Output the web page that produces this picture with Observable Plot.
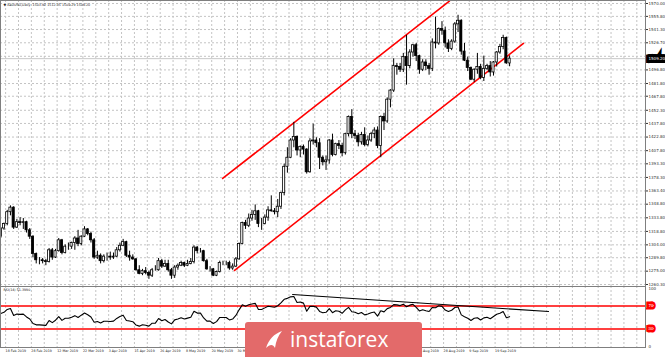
<!DOCTYPE html>
<html>
<head>
<meta charset="utf-8">
<script src="https://cdn.jsdelivr.net/npm/d3@7"></script>
<script src="https://cdn.jsdelivr.net/npm/@observablehq/plot@0.6"></script>
<style>
html,body{margin:0;padding:0;background:#fff;}
#wrap{position:relative;width:665px;height:357px;overflow:hidden;background:#fff;font-family:"DejaVu Sans",sans-serif;}
#main,#rsi{position:absolute;left:0;}
#main{top:0;}
#rsi{top:286px;}
#wm{position:absolute;left:245px;top:322px;width:177px;height:35px;background:#e36a6a;border-radius:3px 3px 0 0;display:flex;align-items:center;}
#wm svg{margin-left:18px;}
#wm span{font-family:"Open Sans",sans-serif;font-size:21px;color:#fff;margin-left:5px;line-height:1;}
</style>
</head>
<body>
<div id="wrap">
  <div id="main"></div>
  <div id="rsi"></div>
  <div id="wm">
    <svg width="22" height="22" viewBox="0 0 22 22"><path d="M3 19 C6 10 11 5 19 2 C15 7 13 12 12 19 C10 15 7 15 3 19 Z" fill="#fff"/></svg>
    <span>instaforex</span>
  </div>
</div>
<script>
// ---- data (daily XAUUSD, 15 Feb 2019 .. 26 Sep 2019) ----
const dates = [
"15 Feb","18 Feb","19 Feb","20 Feb","21 Feb","22 Feb","25 Feb","26 Feb","27 Feb","28 Feb",
"1 Mar","4 Mar","5 Mar","6 Mar","7 Mar","8 Mar","11 Mar","12 Mar","13 Mar","14 Mar","15 Mar","18 Mar","19 Mar","20 Mar","21 Mar","22 Mar","25 Mar","26 Mar","27 Mar","28 Mar","29 Mar",
"1 Apr","2 Apr","3 Apr","4 Apr","5 Apr","8 Apr","9 Apr","10 Apr","11 Apr","12 Apr","15 Apr","16 Apr","17 Apr","18 Apr","22 Apr","23 Apr","24 Apr","25 Apr","26 Apr","29 Apr","30 Apr",
"1 May","2 May","3 May","6 May","7 May","8 May","9 May","10 May","13 May","14 May","15 May","16 May","17 May","20 May","21 May","22 May","23 May","24 May","27 May","28 May","29 May","30 May","31 May",
"3 Jun","4 Jun","5 Jun","6 Jun","7 Jun","10 Jun","11 Jun","12 Jun","13 Jun","14 Jun","17 Jun","18 Jun","19 Jun","20 Jun","21 Jun","24 Jun","25 Jun","26 Jun","27 Jun","28 Jun",
"1 Jul","2 Jul","3 Jul","4 Jul","5 Jul","8 Jul","9 Jul","10 Jul","11 Jul","12 Jul","15 Jul","16 Jul","17 Jul","18 Jul","19 Jul","22 Jul","23 Jul","24 Jul","25 Jul","26 Jul","29 Jul","30 Jul","31 Jul",
"1 Aug","2 Aug","5 Aug","6 Aug","7 Aug","8 Aug","9 Aug","12 Aug","13 Aug","14 Aug","15 Aug","16 Aug","19 Aug","20 Aug","21 Aug","22 Aug","23 Aug","26 Aug","27 Aug","28 Aug","29 Aug","30 Aug",
"2 Sep","3 Sep","4 Sep","5 Sep","6 Sep","9 Sep","10 Sep","11 Sep","12 Sep","13 Sep","16 Sep","17 Sep","18 Sep","19 Sep","20 Sep","23 Sep","24 Sep","25 Sep","26 Sep"];

const opens = [
1313,1322,1327,1340,1345,1323,1329,1328,1329,1320,
1313,1294,1287,1287,1286,1285,1298,1290,1297,1309,1295,1302,1302,1306,1311,1305,1313,1321,1316,1309,1290,
1292,1286,1291,1291,1290,1291,1298,1303,1307,1292,1290,1288,1276,1272,1275,1273,1270,1276,1276,1286,1280,
1283,1276,1270,1279,1281,1284,1281,1283,1285,1301,1297,1297,1286,1277,1277,1270,1274,1284,1284,1284,1278,1280,1288,
1305,1328,1325,1333,1337,1341,1327,1327,1334,1342,1341,1340,1346,1361,1390,1400,1419,1423,1408,1412,
1409,1384,1418,1419,1416,1400,1395,1397,1419,1403,1415,1413,1405,1426,1445,1426,1424,1417,1425,1414,1419,1426,1430,
1413,1445,1440,1464,1474,1501,1500,1497,1511,1501,1516,1524,1512,1497,1505,1501,1498,1527,1526,1542,1540,1526,
1520,1528,1547,1551,1517,1507,1499,1486,1497,1500,1488,1498,1501,1494,1505,1516,1522,1532,1503.92];

const highs = [
1323,1328,1342,1347,1346,1332,1334,1333,1330,1322,
1314,1295,1290,1289,1288,1300,1300,1299,1311,1310,1304,1306,1307,1313,1320,1314,1324,1322,1318,1311,1297,
1294,1293,1295,1296,1295,1301,1306,1310,1308,1297,1293,1289,1281,1277,1279,1275,1278,1281,1289,1288,1287,
1287,1278,1281,1283,1286,1285,1287,1289,1303,1302,1300,1298,1288,1280,1278,1275,1286,1286,1286,1286,1283,1290,1306,
1329,1331,1338,1342,1348,1342,1333,1337,1346,1358,1344,1354,1362,1393,1411,1421,1439,1424,1413,1414,
1410,1421,1437,1422,1421,1402,1402,1420,1426,1416,1419,1416,1427,1446,1453,1430,1427,1428,1433,1424,1428,1433,1434,
1446,1449,1466,1475,1509,1504,1504,1515,1535,1519,1525,1526,1513,1508,1508,1504,1531,1555,1543,1550,1544,1530,
1530,1549,1557,1552,1526,1511,1500,1498,1515,1503,1512,1503,1506,1506,1517,1525,1535,1533,1512.35];

const lows = [
1311,1320,1325,1336,1321,1322,1325,1321,1317,1310,
1290,1283,1282,1283,1281,1284,1287,1289,1296,1293,1294,1298,1299,1298,1302,1303,1312,1314,1306,1288,1288,
1283,1284,1286,1287,1288,1290,1296,1302,1290,1286,1287,1275,1271,1270,1271,1266,1268,1275,1275,1278,1279,
1274,1266,1267,1276,1280,1279,1280,1282,1283,1294,1295,1285,1276,1274,1269,1269,1273,1281,1281,1276,1276,1279,1287,
1304,1321,1323,1330,1331,1323,1320,1326,1330,1340,1337,1334,1343,1358,1383,1399,1411,1402,1400,1403,
1382,1383,1414,1411,1387,1391,1386,1393,1401,1402,1409,1401,1403,1423,1421,1420,1412,1414,1412,1412,1417,1421,1410,
1400,1430,1438,1455,1472,1491,1494,1494,1480,1498,1511,1506,1492,1495,1496,1491,1495,1520,1524,1535,1521,1516,
1518,1526,1538,1513,1506,1495,1485,1483,1492,1486,1484,1496,1489,1490,1500,1514,1519,1503,1500.29];

const closes = [
1322,1327,1340,1345,1323,1329,1328,1329,1320,1313,
1294,1287,1287,1286,1285,1298,1290,1297,1309,1295,1302,1302,1306,1311,1305,1313,1321,1316,1309,1290,1292,
1286,1291,1291,1290,1291,1298,1303,1307,1292,1290,1288,1276,1272,1275,1273,1270,1276,1276,1286,1280,1283,
1276,1270,1279,1281,1284,1281,1283,1285,1301,1297,1297,1286,1277,1277,1270,1274,1284,1284,1284,1278,1280,1288,1305,
1328,1325,1333,1337,1341,1327,1327,1334,1342,1341,1340,1346,1361,1390,1400,1419,1423,1408,1412,1409,
1384,1418,1419,1416,1400,1395,1397,1419,1403,1415,1413,1405,1426,1445,1426,1424,1417,1425,1414,1419,1426,1430,1413,
1445,1440,1464,1474,1501,1500,1497,1511,1501,1516,1524,1512,1497,1505,1501,1498,1527,1526,1542,1540,1526,1520,
1528,1547,1551,1517,1507,1499,1486,1497,1500,1488,1498,1501,1494,1505,1516,1522,1532,1504,1509.20];

const rsi = [
57,58.9,63.9,65.6,53.5,55.9,55.4,55.8,51.0,47.5,
39.7,37.3,37.3,36.9,36.5,44.8,41.2,45.3,51.6,45.1,48.6,48.6,50.6,53.2,49.9,54.0,57.7,54.7,50.8,41.9,43.0,
40.5,43.5,43.5,43.0,43.7,48.4,51.6,54.0,44.9,43.9,42.8,36.9,35.1,37.5,36.6,35.1,40.2,40.2,48.2,44.4,46.6,
42.3,39.0,45.9,47.3,49.4,47.4,48.9,50.5,60.8,57.6,57.6,49.2,43.7,43.7,39.6,42.9,50.1,50.1,50.1,45.8,47.4,53.5,63.2,
71.8,69.5,72.0,73.2,74.4,63.8,63.8,66.6,69.4,68.6,67.8,70.2,75.1,81.4,83.0,85.6,86.1,75.9,76.7,74.8,
60.8,69.2,69.4,67.9,60.5,58.3,59.0,65.2,58.3,61.6,60.7,57.3,63.2,67.5,59.9,59.1,56.4,58.7,54.5,56.0,58.2,59.4,52.4,
61.6,59.7,65.3,67.4,72.2,71.8,70.5,73.0,68.5,71.3,72.7,67.4,61.3,63.2,61.6,60.3,67.3,66.9,70.2,69.2,62.9,60.4,
62.5,67.2,68.0,54.5,51.3,48.8,44.9,48.6,49.6,45.8,49.3,50.3,47.9,51.8,55.5,57.4,60.4,49.7,51.4];

// price-axis labels as shown (the one at 1511.80 is hidden under the bid box, its grid line remains)
const priceTicks = [1570.00,1555.80,1541.30,1526.70,1496.80,1481.80,1467.80,1452.30,1437.80,1422.80,
  1407.80,1393.30,1378.30,1363.40,1348.80,1333.80,1318.80,1304.00,1289.80,1275.00,1260.30];
const hiddenGridPrices = [1511.80];
const dateTickBars = [0,8,16,24,32,40,48,56,64,72,80,88,96,104,112,120,128,136,144,152];
const dateTickLabels = ["18 Feb 2019","28 Feb 2019","12 Mar 2019","22 Mar 2019","3 Apr 2019","15 Apr 2019",
  "26 Apr 2019","8 May 2019","20 May 2019","30 May 2019","11 Jun 2019","21 Jun 2019","3 Jul 2019","15 Jul 2019",
  "25 Jul 2019","6 Aug 2019","16 Aug 2019","28 Aug 2019","9 Sep 2019","19 Sep 2019"];
const bidPrice = 1509.20;
const titleText = "\u25BC XAUUSD,Daily  1503.92 1512.35 1500.29 1509.20";
const rsiTitle = "RSI(14) 51.3990";
// channel lines (bar index, price)
const upperChannel = [{i:67.9, p:1377.2},{i:138.3, p:1572.5}];
const lowerChannel = [{i:71.6, p:1275.8},{i:161.3, p:1526.0}];
// RSI trend line (bar index, rsi)
const rsiTrend = [{i:89.6, r:89.7},{i:169.1, r:60.3}];
const rsiLevels = [70, 30];

// ---- build ----
const bars = dates.map((d,k)=>({i:k-1, date:d, o:opens[k], h:highs[k], l:lows[k], c:closes[k], r:rsi[k]}));
const gridBars = d3.range(0, 200, 4).map(v=>v+0.5);
const gridPrices = priceTicks.concat(hiddenGridPrices);
const xScale = {domain:[-1.087, 199.2], range:[0, 645]};
const font = "DejaVu Sans, sans-serif";

// labels that sit wholly behind the watermark box are not visible in the reference
const wmBox = document.getElementById("wm").getBoundingClientRect();
const xs = d3.scaleLinear(xScale.domain, xScale.range);
const dateTicks = dateTickBars.map((b,k)=>({i:b+0.5, label:dateTickLabels[k]}))
  .filter(d => { const px = xs(d.i); return !(px > wmBox.left && px + 20 < wmBox.right); });

const main = Plot.plot({
  width:665, height:286, marginLeft:0, marginRight:20, marginTop:0, marginBottom:0,
  x:{...xScale, axis:null},
  y:{domain:[1260.3, 1570], range:[284, 3]},
  style:{background:"#fff", fontFamily:font},
  marks:[
    Plot.ruleX(gridBars, {x:d=>d, stroke:"#c4c4c4", strokeDasharray:"2,2"}),
    Plot.ruleY(gridPrices, {y:d=>d, stroke:"#c4c4c4", strokeDasharray:"2,2"}),
    Plot.ruleY([bidPrice], {y:d=>d, stroke:"#c8c8c8", strokeWidth:1}),
    Plot.line(upperChannel, {x:"i", y:"p", stroke:"#ff0000", strokeWidth:1.6, clip:true}),
    Plot.line(lowerChannel, {x:"i", y:"p", stroke:"#ff0000", strokeWidth:1.6, clip:true}),
    Plot.ruleX(bars, {x:"i", y1:"l", y2:"h", stroke:"#000", strokeWidth:1, clip:true}),
    Plot.rect(bars, {x1:d=>d.i-0.33, x2:d=>d.i+0.33, y1:"o", y2:"c",
      fill:d=>d.c>=d.o?"#fff":"#000", stroke:"#000", strokeWidth:0.8, clip:true}),
    Plot.axisY(priceTicks, {anchor:"right", tickSize:2, tickPadding:1, tickFormat:d=>d.toFixed(2),
      fontSize:4, color:"#333"}),
    Plot.text([bidPrice], {y:d=>d, text:d=>d.toFixed(2), frameAnchor:"right", textAnchor:"start", dx:3,
      fontSize:4, fill:"#fff", stroke:"#000", strokeWidth:6, strokeLinejoin:"miter", paintOrder:"stroke"}),
    Plot.text([titleText], {frameAnchor:"top-left", dx:3, dy:3, fontSize:3.3, fill:"#222", lineAnchor:"top"}),
    Plot.frame({stroke:"#7f7f7f"})
  ]
});
document.getElementById("main").appendChild(main);

const rsiPlot = Plot.plot({
  width:665, height:71, marginLeft:0, marginRight:20, marginTop:0, marginBottom:10,
  x:{...xScale, axis:null},
  y:{domain:[0,100], range:[60, 2], axis:null},
  style:{background:"transparent", fontFamily:font},
  marks:[
    Plot.ruleX(gridBars, {x:d=>d, stroke:"#c4c4c4", strokeDasharray:"2,2"}),
    Plot.ruleY(rsiLevels, {y:d=>d, stroke:"#ff0000", strokeWidth:1.5}),
    Plot.line(bars, {x:"i", y:"r", stroke:"#000", strokeWidth:1.1, clip:true}),
    Plot.line(rsiTrend, {x:"i", y:"r", stroke:"#000", strokeWidth:1.1}),
    Plot.text([100, 0], {y:d=>d, text:d=>String(d), frameAnchor:"right", textAnchor:"start", dx:3, fontSize:4, fill:"#333"}),
    Plot.text(rsiLevels, {y:d=>d, text:d=>String(d), frameAnchor:"right", textAnchor:"start", dx:3,
      fontSize:4, fill:"#fff", stroke:"#ff0000", strokeWidth:5, strokeLinejoin:"miter", paintOrder:"stroke"}),
    Plot.text(dateTicks, {x:"i", text:"label", frameAnchor:"bottom", lineAnchor:"top", textAnchor:"start",
      dy:2.5, dx:0, fontSize:3.3, fill:"#222"}),
    Plot.text([rsiTitle], {frameAnchor:"top-left", dx:3, dy:2, fontSize:3.3, fill:"#222", lineAnchor:"top"}),
    Plot.frame({stroke:"#7f7f7f"})
  ]
});
document.getElementById("rsi").appendChild(rsiPlot);
</script>
</body>
</html>
